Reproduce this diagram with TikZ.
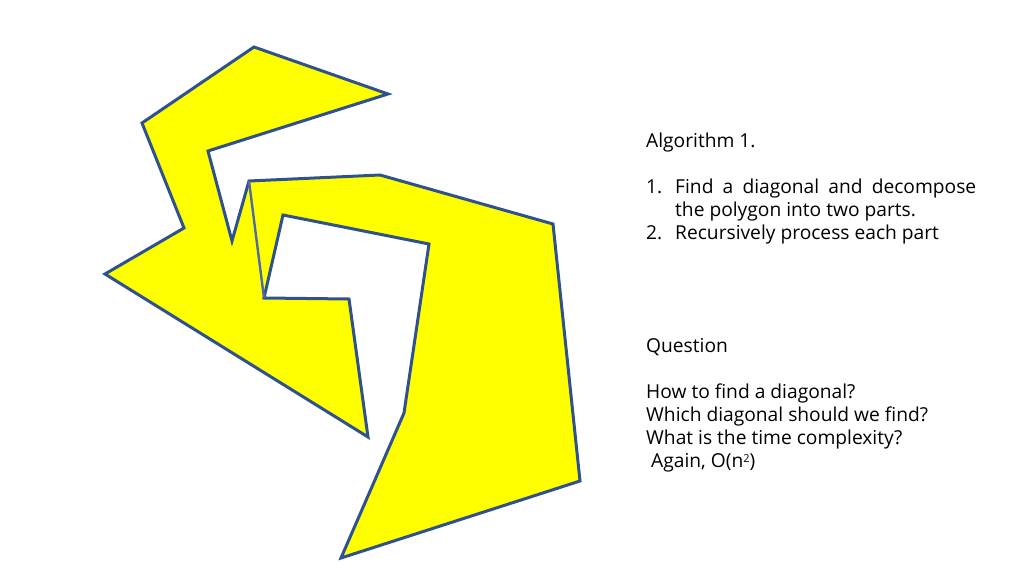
\documentclass[tikz,border=0pt]{standalone}
\usepackage{fontspec}
\setmainfont{Open Sans}
\definecolor{edge}{HTML}{2F528F}
\definecolor{fillc}{HTML}{FFFF00}
\begin{document}
\begin{tikzpicture}[x=1pt,y=-1pt,
  txt/.style={anchor=base west,inner sep=0pt,font=\fontsize{19.2}{23}\selectfont},
  poly/.style={draw=edge,fill=fillc,line width=3pt,line join=miter}]
\useasboundingbox (0,0) rectangle (1024,575);
\coordinate (p1) at (254,47);
\coordinate (p2) at (388,94);
\coordinate (p3) at (208,151);
\coordinate (p4) at (232,241);
\coordinate (p5) at (249,181);
\coordinate (p6) at (380,175);
\coordinate (p7) at (553,224);
\coordinate (p8) at (580,481);
\coordinate (p9) at (341,558);
\coordinate (p10) at (404,413);
\coordinate (p11) at (429,244);
\coordinate (p12) at (283,215);
\coordinate (p13) at (264,298);
\coordinate (p14) at (349,299);
\coordinate (p15) at (368,437);
\coordinate (p16) at (105,274);
\coordinate (p17) at (184,228);
\coordinate (p18) at (142,123);
\draw[poly] (p1) -- (p2) -- (p3) -- (p4) -- (p5) -- (p6) -- (p7) -- (p8) -- (p9) -- (p10) -- (p11) -- (p12) -- (p13) -- (p14) -- (p15) -- (p16) -- (p17) -- (p18) -- cycle;
\draw[draw=edge!85!white,line width=2.4pt] (p5) -- (p13);
\node[txt] (t1) at (646,147) {Algorithm 1.};
\node[txt] (n1) at (646,193) {1.};
\node[txt] (l1) at (675,193) {\makebox[301pt][s]{Find a diagonal and decompose}};
\node[txt] (l2) at (675,216) {the polygon into two parts.};
\node[txt] (n2) at (646,239) {2.};
\node[txt] (l3) at (675,239) {Recursively process each part};
\node[txt] (q) at (646,352) {Question};
\node[txt] (q1) at (646,398) {How to find a diagonal?};
\node[txt] (q2) at (646,421) {Which diagonal should we find?};
\node[txt] (q3) at (646,444) {What is the time complexity?};
\node[txt] (q4) at (646,467) {\ Again, O(n\raisebox{0.45ex}{\fontsize{11}{11}\selectfont 2})};
\end{tikzpicture}
\end{document}
